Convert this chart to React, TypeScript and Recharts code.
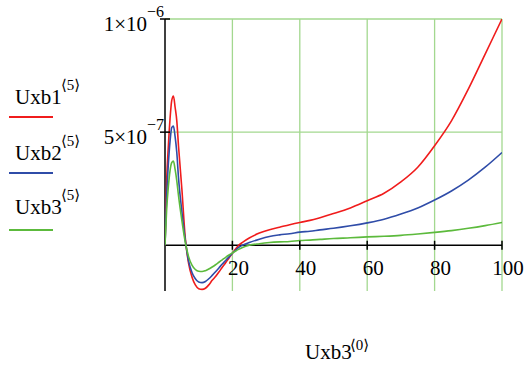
import React from "react";
import { LineChart, Line, XAxis, YAxis, ReferenceLine, ReferenceDot } from "recharts";

// x values (Uxb3<0>)
const xs = [0, 0.5, 1, 1.5, 2, 2.5, 3, 3.5, 4, 5, 6, 7, 8, 9, 10, 11, 12, 13, 14, 15, 16, 17, 18, 19, 20, 21, 22, 23, 25, 28, 31, 34, 37, 40, 43, 46, 50, 55, 60, 65, 70, 75, 80, 85, 90, 95, 100];
// series values in units of 1e-7
const uxb1 = [0, 2.9, 4.4, 5.6, 6.4, 6.6, 6.1, 5.5, 4.4, 2.5, 0.35, -0.8, -1.4, -1.75, -1.92, -1.95, -1.9, -1.75, -1.55, -1.38, -1.18, -0.97, -0.77, -0.56, -0.35, -0.15, 0.02, 0.13, 0.32, 0.54, 0.69, 0.8, 0.91, 1.01, 1.1, 1.22, 1.4, 1.65, 1.97, 2.3, 2.8, 3.45, 4.4, 5.5, 6.9, 8.45, 10.0];
const uxb2 = [0, 2.2, 3.6, 4.6, 5.2, 5.27, 4.8, 4.1, 3.0, 1.5, 0.25, -0.7, -1.2, -1.48, -1.62, -1.65, -1.6, -1.48, -1.33, -1.17, -1.0, -0.83, -0.67, -0.51, -0.35, -0.21, -0.08, 0.0, 0.12, 0.27, 0.39, 0.46, 0.51, 0.58, 0.62, 0.68, 0.75, 0.86, 0.99, 1.15, 1.38, 1.65, 2.0, 2.4, 2.88, 3.45, 4.1];
const uxb3 = [0, 1.6, 2.6, 3.3, 3.65, 3.72, 3.35, 2.85, 2.2, 1.1, 0.15, -0.5, -0.88, -1.07, -1.15, -1.16, -1.12, -1.05, -0.96, -0.86, -0.75, -0.64, -0.53, -0.43, -0.34, -0.25, -0.17, -0.1, 0.0, 0.07, 0.12, 0.15, 0.17, 0.21, 0.23, 0.26, 0.3, 0.33, 0.37, 0.4, 0.44, 0.5, 0.57, 0.65, 0.75, 0.87, 1.01];

const xTicks = [20, 40, 60, 80, 100];
const yTicks = [5, 10];
const yTickMantissa = ["5", "1"];
const yTickExponent = ["\u22127", "\u22126"];
const seriesNames = ["Uxb1", "Uxb2", "Uxb3"];
const seriesSup = "\u27E85\u27E9";
const xTitle = "Uxb3";
const xTitleSup = "\u27E80\u27E9";

const COLORS = ["#f01c1c", "#2f4ca8", "#5cba3c"];
const GRID = "#a3d88f";
const FONT = "'Liberation Serif', 'Times New Roman', 'DejaVu Serif', serif";
const txt = (size: number): React.CSSProperties => ({ fontFamily: FONT, fontSize: size, fill: "#000" });

const data = xs.map((x, i) => ({ x, a: uxb1[i], b: uxb2[i], c: uxb3[i] }));

const XTickShape = (label: number) => (p: any) => (
  <g>
    <line x1={p.cx} x2={p.cx} y1={p.cy - 4.5} y2={p.cy + 4.5} stroke="#000" strokeWidth={1.5} />
    <text x={p.cx + 6} y={p.cy + 30} textAnchor="middle" style={txt(21)}>
      {label}
    </text>
  </g>
);

const YTickShape = (i: number) => (p: any) => (
  <g>
    <line x1={p.cx - 5} x2={p.cx + 5} y1={p.cy} y2={p.cy} stroke="#000" strokeWidth={1.5} />
    <text x={p.cx - 18} y={p.cy + 11.5} textAnchor="end" style={txt(21)}>
      {yTickMantissa[i]}×10
    </text>
    <text x={p.cx - 18} y={p.cy - 2} textAnchor="start" style={txt(16)}>
      {yTickExponent[i]}
    </text>
  </g>
);

export default function App() {
  return (
    <div style={{ position: "absolute", left: 0, top: 0, width: 527, height: 370, background: "#fff" }}>
      <LineChart width={527} height={370} data={data} margin={{ top: 19, right: 25, bottom: 79, left: 165 }}>
        <XAxis type="number" dataKey="x" domain={[0, 100]} hide allowDataOverflow />
        <YAxis type="number" domain={[-2.02, 10]} hide allowDataOverflow />
        {xTicks.map((t) => (
          <ReferenceLine key={"gx" + t} x={t} stroke={GRID} strokeWidth={1.3} />
        ))}
        {yTicks.map((t) => (
          <ReferenceLine key={"gy" + t} y={t} stroke={GRID} strokeWidth={1.3} />
        ))}
        <ReferenceLine x={0} stroke="#000" strokeWidth={1.5} />
        <ReferenceLine y={0} stroke="#000" strokeWidth={1.5} />
        <Line type="monotone" dataKey="a" stroke={COLORS[0]} strokeWidth={1.6} dot={false} isAnimationActive={false} />
        <Line type="monotone" dataKey="b" stroke={COLORS[1]} strokeWidth={1.6} dot={false} isAnimationActive={false} />
        <Line type="monotone" dataKey="c" stroke={COLORS[2]} strokeWidth={1.6} dot={false} isAnimationActive={false} />
        {xTicks.map((t) => (
          <ReferenceDot key={"tx" + t} x={t} y={0} r={0} shape={XTickShape(t)} />
        ))}
        {yTicks.map((t, i) => (
          <ReferenceDot key={"ty" + t} x={0} y={t} r={0} shape={YTickShape(i)} />
        ))}
      </LineChart>
      <svg width={527} height={370} style={{ position: "absolute", left: 0, top: 0, pointerEvents: "none" }}>
        {seriesNames.map((n, i) => {
          const base = [104, 160, 214][i];
          const ly = [117, 173, 230][i];
          return (
            <g key={n}>
              <text x={15} y={base} style={txt(21)}>
                {n}
              </text>
              <text x={61} y={base - 14} style={txt(15)}>
                {seriesSup}
              </text>
              <line x1={9} x2={53} y1={ly} y2={ly} stroke={COLORS[i]} strokeWidth={2} />
            </g>
          );
        })}
        <text x={305} y={359} style={txt(21)}>
          {xTitle}
        </text>
        <text x={350} y={350} style={txt(15)}>
          {xTitleSup}
        </text>
      </svg>
    </div>
  );
}
